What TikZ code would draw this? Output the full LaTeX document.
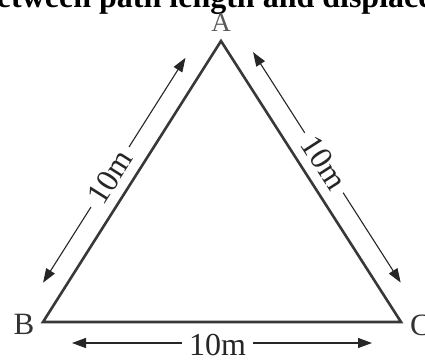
\documentclass[tikz,border=0pt]{standalone}
\usepackage{fontspec}
\setmainfont{Liberation Serif}
\usetikzlibrary{arrows.meta,calc}
\begin{document}
\begin{tikzpicture}[x=1pt,y=-1pt,
  side/.style={line width=2.6pt,draw=black!78,line join=miter},
  dim/.style={line width=1.1pt,draw=black!85,{Triangle[length=14pt,width=10pt]}-{Triangle[length=14pt,width=10pt]}},
  dimlabel/.style={fill=white,inner xsep=7pt,inner ysep=0pt,font=\fontsize{32}{32}\selectfont,text=black!85},
  vlabel/.style={inner sep=0pt,font=\fontsize{31}{31}\selectfont,text=black!80},
  title/.style={inner sep=0pt,font=\fontsize{32}{32}\selectfont\bfseries,anchor=base west}]
\useasboundingbox (0,0) rectangle (425,363);
\clip (0,0) rectangle (425,363);
\fill[white] (0,0) rectangle (425,363);
\node[title] (title) at (-21,8) {between path length and displacement};
\coordinate (A) at (221,41);
\coordinate (B) at (43,322);
\coordinate (C) at (401,322);
\draw[side] (A) -- (B) -- (C) -- cycle;
\node[vlabel,font=\fontsize{27}{27}\selectfont,text=black!65] (la) at (221,23) {A};
\node[vlabel] (lb) at (24,324) {B};
\node[vlabel,anchor=west] (lc) at (410,325) {C};
% left side arrow (outside, offset ~21px)
\coordinate (L1) at ($(B)!0.10!(A)$);
\coordinate (L2) at ($(B)!0.90!(A)$);
\coordinate (lb1) at ($(L1)!21pt!90:(A)$);
\coordinate (lb2) at ($(L2)!21pt!-90:(B)$);
\draw[dim] (lb1) -- node[dimlabel,sloped,pos=0.47] (t1) {10m} (lb2);
% right side arrow
\coordinate (R1) at ($(A)!0.08!(C)$);
\coordinate (R2) at ($(A)!0.90!(C)$);
\coordinate (rb1) at ($(R1)!21pt!90:(C)$);
\coordinate (rb2) at ($(R2)!21pt!-90:(A)$);
\draw[dim] (rb1) -- node[dimlabel,sloped,pos=0.48] (t2) {10m} (rb2);
% bottom arrow
\coordinate (b1) at (72,343);
\coordinate (b2) at (372,343);
\draw[dim] (b1) -- node[dimlabel,yshift=-2pt,pos=0.485] (t3) {10m} (b2);
\end{tikzpicture}
\end{document}
